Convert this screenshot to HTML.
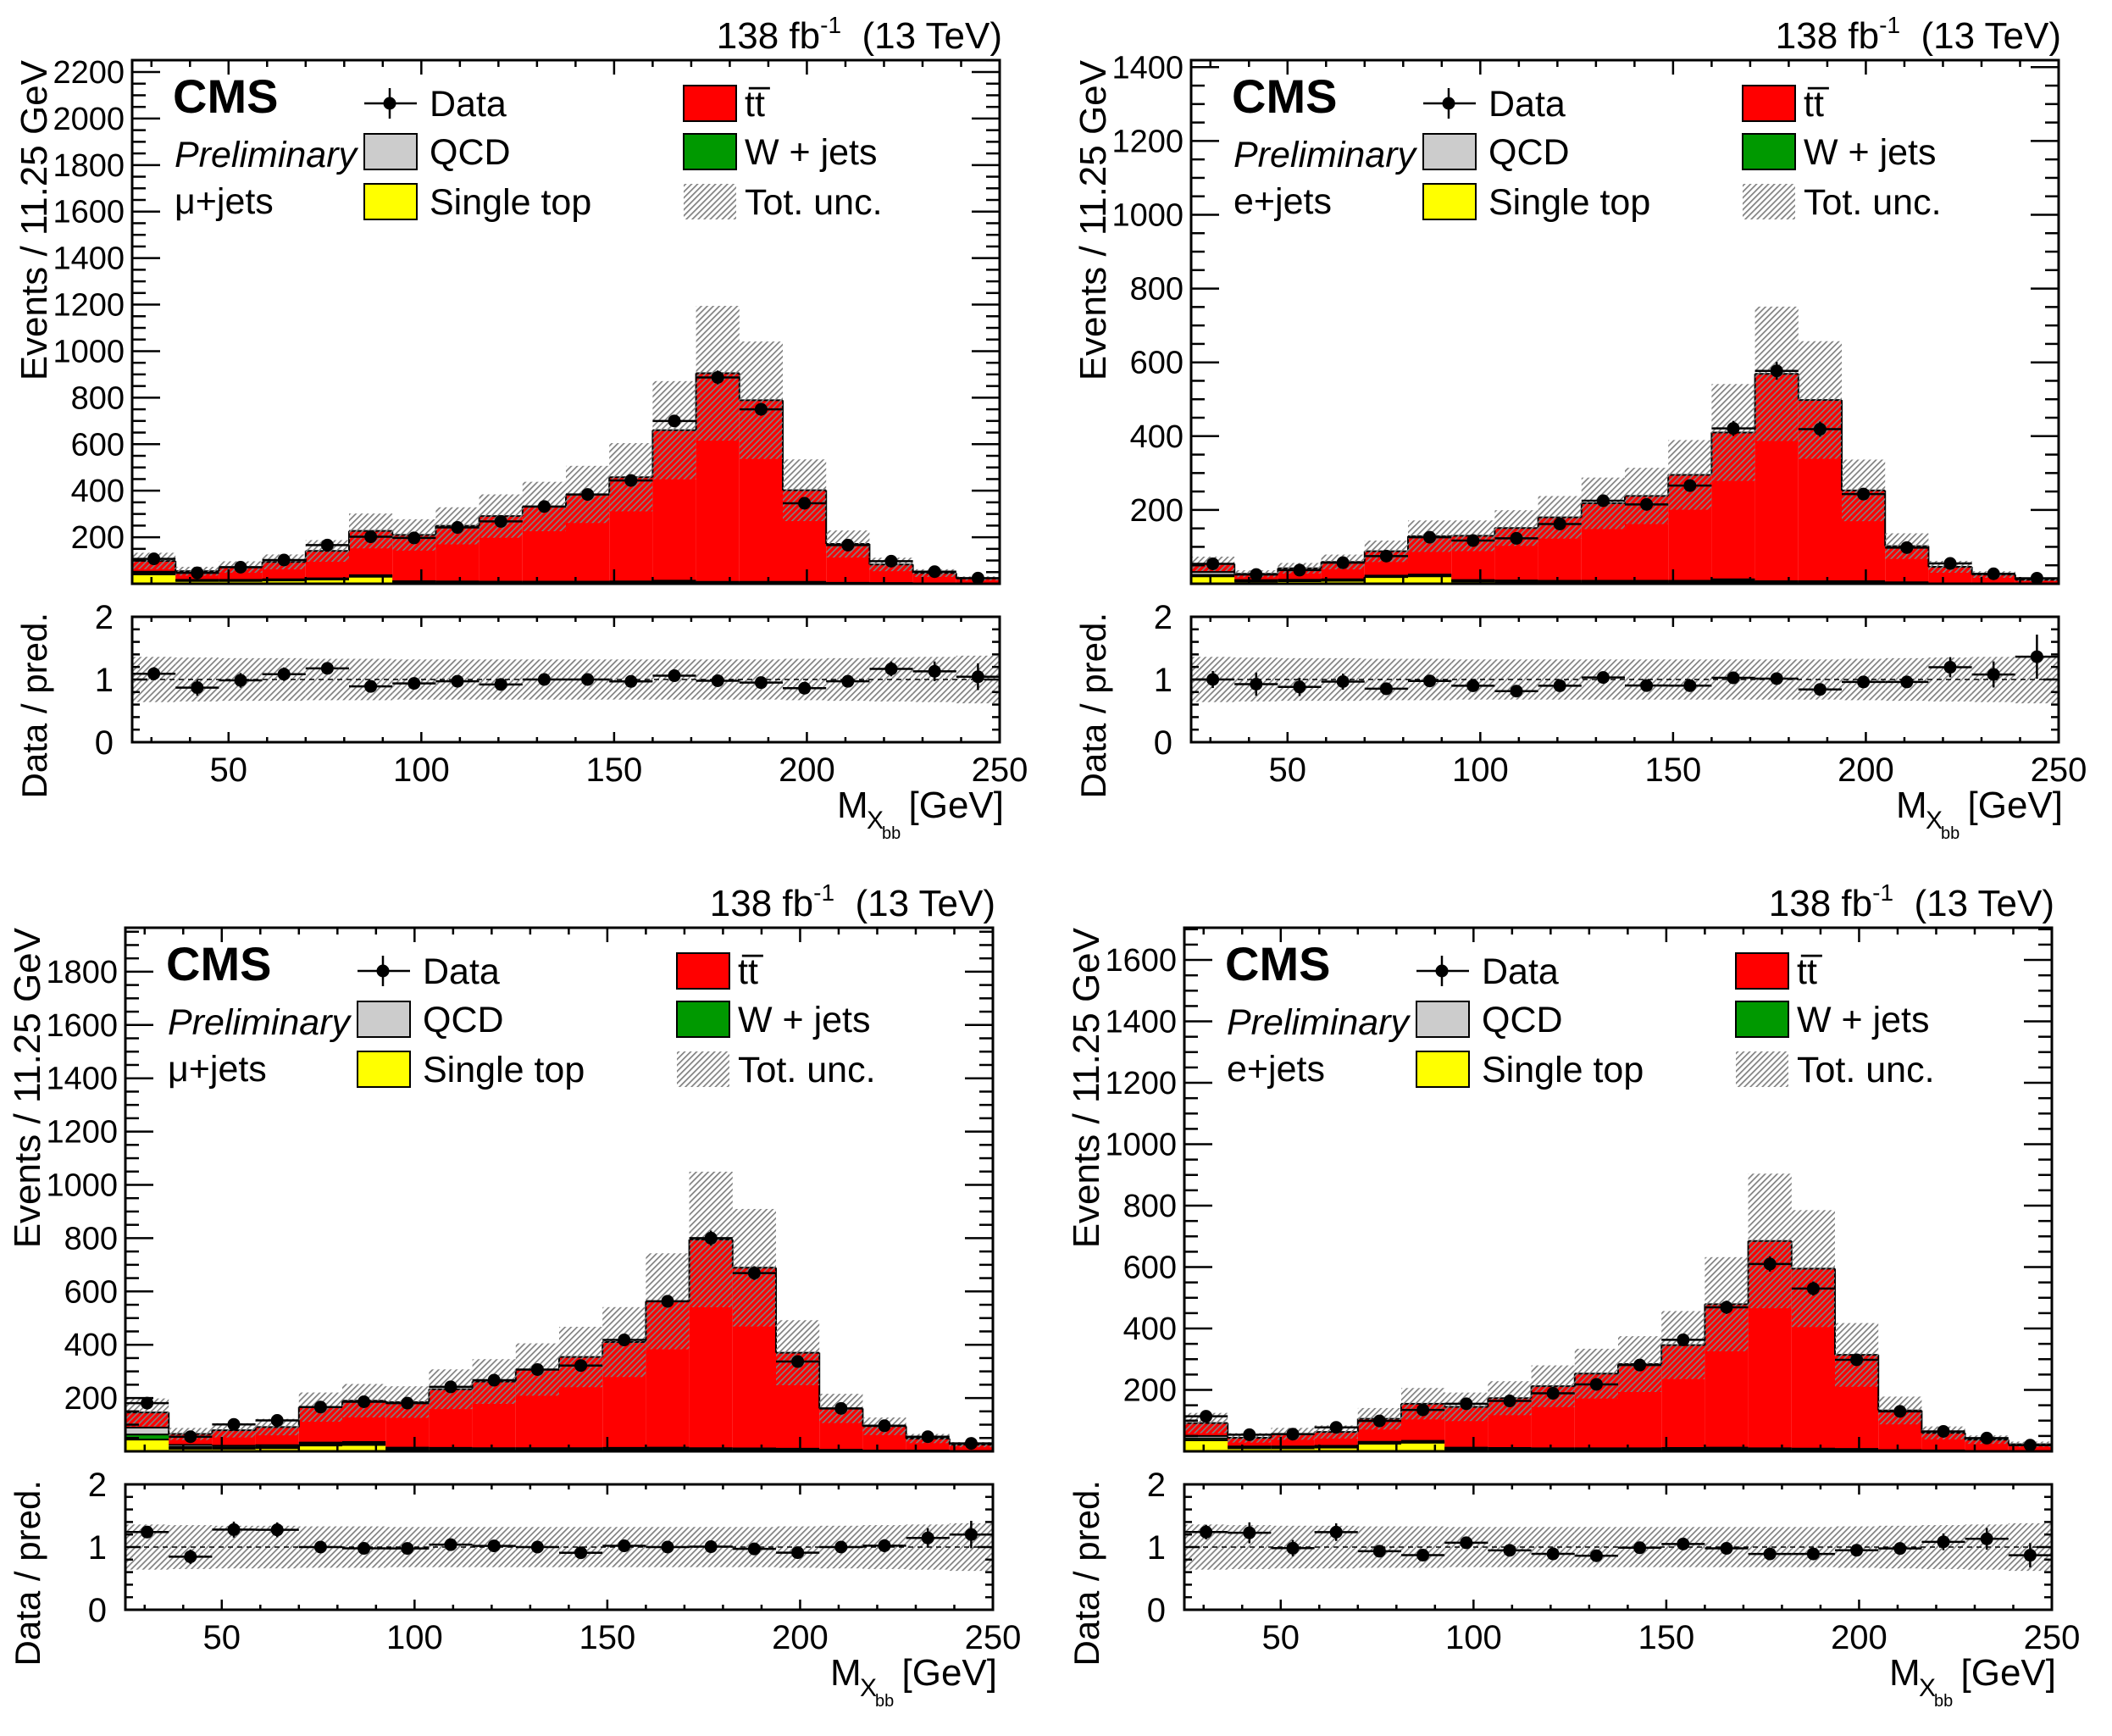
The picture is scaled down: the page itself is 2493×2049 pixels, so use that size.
<!DOCTYPE html>
<html><head><meta charset="utf-8"><style>
html,body{margin:0;padding:0;background:#fff;}
svg text{font-family:"Liberation Sans",Arial,sans-serif;fill:#000;}
</style></head><body>
<svg id="fig" xmlns="http://www.w3.org/2000/svg" width="2493" height="2044" viewBox="0 0 2493 2044">
<defs>
<pattern id="hatch" patternUnits="userSpaceOnUse" width="5" height="5" patternTransform="rotate(45)">
<rect x="0" y="0" width="1.7" height="5" fill="#808080"/>
</pattern>
</defs>
<g id="root"></g>
</svg>
<script>
// ---------- shared binning / uncertainty ----------
const xMin = 25, binW = 11.25, nBins = 20;
const uncFrac = [0.36,0.35,0.34,0.34,0.33,0.33,0.32,0.32,0.32,0.32,0.32,0.32,0.32,0.32,0.32,0.33,0.34,0.35,0.36,0.38];
const xTickLabels = [50,100,150,200,250];

// ---------- panel 1: mu+jets (top-left) ----------
const p1Data  = [107,47,71,102,166,202,197,242,268,332,384,444,700,887,750,346,166,97,52,24];
const p1Pred  = [98,54,72,94,141,227,210,249,291,332,384,458,660,905,789,402,171,83,46,23];
const p1Stop  = [40,12,12,14,18,30,6,5,4,4,4,5,6,3,3,4,2,1,1,1];
const p1Wjets = [6,3,3,3,3,4,3,3,3,3,3,3,4,3,3,2,1,1,0,0];
const p1Qcd   = [6,2,2,2,2,3,2,2,2,2,2,2,3,2,2,2,1,1,0,0];
const p1YTicks = [200,400,600,800,1000,1200,1400,1600,1800,2000,2200];

// ---------- panel 2: e+jets (top-right) ----------
const p2Data  = [54,25,37,57,75,126,117,123,162,225,215,266,421,577,419,243,98,55,27,15];
const p2Pred  = [54,27,42,59,88,129,130,151,180,218,238,295,410,569,498,253,102,46,25,11];
const p2Stop  = [20,6,7,8,18,20,6,5,4,4,4,4,5,3,3,3,2,1,1,1];
const p2Wjets = [4,2,2,2,2,3,2,2,2,2,2,2,4,2,2,2,1,0,0,0];
const p2Qcd   = [8,2,2,2,2,2,2,2,2,2,2,2,3,2,2,2,1,0,0,0];
const p2YTicks = [200,400,600,800,1000,1200,1400];

// ---------- panel 3: mu+jets (bottom-left) ----------
const p3Data  = [181,55,101,116,166,186,181,242,267,307,322,418,563,800,669,337,161,96,55,30];
const p3Pred  = [146,65,79,91,166,190,185,233,262,307,354,410,563,795,689,370,161,94,48,25];
const p3Stop  = [44,10,10,12,22,24,6,5,4,4,4,5,6,4,3,4,2,1,1,1];
const p3Wjets = [19,6,5,5,5,5,4,4,4,4,4,4,4,4,4,3,2,1,1,0];
const p3Qcd   = [26,8,6,6,6,6,4,4,4,4,4,4,4,4,4,3,2,1,1,0];
const p3YTicks = [200,400,600,800,1000,1200,1400,1600,1800];

// ---------- panel 4: e+jets (bottom-right) ----------
const p4Data  = [114,54,56,78,99,135,155,164,189,218,281,363,469,610,530,298,130,65,43,20];
const p4Pred  = [92,44,57,63,106,155,145,173,212,253,284,346,479,685,595,314,133,60,38,23];
const p4Stop  = [36,10,10,12,25,28,6,5,4,4,4,5,6,4,3,4,2,1,1,1];
const p4Wjets = [6,3,3,3,3,3,3,3,3,3,3,3,3,3,3,2,1,1,0,0];
const p4Qcd   = [8,3,3,3,3,3,3,3,3,3,3,3,3,3,3,2,1,1,0,0];
const p4YTicks = [200,400,600,800,1000,1200,1400,1600];

const NS = "http://www.w3.org/2000/svg";
const root = document.getElementById('root');
function mk(tag, attrs, parent){
  const e = document.createElementNS(NS, tag);
  for (const k in attrs) e.setAttribute(k, attrs[k]);
  (parent||root).appendChild(e);
  return e;
}

function drawPanel(cfg){
  const g = mk('g', {transform:'translate('+cfg.dx+','+cfg.dy+')'});
  
  
  const X0=156, X1=1180, YT=71, YB=689, RT=728, RB=876;
  const xs = v => X0 + (v - xMin) * (X1 - X0) / (nBins*binW);
  const ys = v => YB - Math.min(v, cfg.ymax) * (YB - YT) / cfg.ymax;
  const rs = v => RB - Math.max(0, Math.min(v, 2)) * (RB - RT) / 2;

  const layers = [
    {name:'single-top', col:'#ffff00'},
    {name:'w-jets', col:'#009900'},
    {name:'qcd', col:'#cccccc'},
    {name:'ttbar', col:'#ff0000'}
  ];
  const hist = mk('g', {}, g);
  
  
  for (let i=0;i<nBins;i++){
    const xa = xs(xMin+i*binW), xb = xs(xMin+(i+1)*binW);
    const comps = [cfg.stop[i], cfg.wj[i], cfg.qcd[i], Math.max(0, cfg.pred[i]-cfg.stop[i]-cfg.wj[i]-cfg.qcd[i])];
    for (let l=3;l>=0;l--){
      let top = 0; for (let k=0;k<=l;k++) top += comps[k];
      const r = mk('rect', {x:xa, y:ys(top), width:xb-xa, height:YB-ys(top), fill:layers[l].col}, hist);
      
      
      mk('line', {x1:xa, x2:xb, y1:ys(top), y2:ys(top), stroke:'#000', 'stroke-width':2}, hist);
    }
  }
  for (let i=0;i<=nBins;i++){
    const x = xs(xMin+i*binW);
    const a = i>0?cfg.pred[i-1]:0, b = i<nBins?cfg.pred[i]:0;
    mk('line', {x1:x, x2:x, y1:ys(a), y2:ys(b), stroke:'#000', 'stroke-width':2}, hist);
  }
  for (let i=0;i<nBins;i++){
    const xa = xs(xMin+i*binW), xb = xs(xMin+(i+1)*binW);
    const hi = cfg.pred[i]*(1+uncFrac[i]), lo = cfg.pred[i]*(1-uncFrac[i]);
    const r = mk('rect', {x:xa, y:ys(hi), width:xb-xa, height:ys(lo)-ys(hi), fill:'url(#hatch)'}, g);
    
    
  }
  for (let i=0;i<nBins;i++){
    const xa = xs(xMin+i*binW), xb = xs(xMin+(i+1)*binW), xc=(xa+xb)/2;
    const d = cfg.data[i], e = Math.sqrt(d);
    mk('line', {x1:xa, x2:xb, y1:ys(d), y2:ys(d), stroke:'#000', 'stroke-width':2.5}, g);
    mk('line', {x1:xc, x2:xc, y1:ys(d+e), y2:ys(d-e), stroke:'#000', 'stroke-width':2.5}, g);
    const c = mk('circle', {cx:xc, cy:ys(d), r:7.5, fill:'#000'}, g);
    
    
  }
  const fr = mk('rect', {x:X0, y:YT, width:X1-X0, height:YB-YT, fill:'none', stroke:'#000', 'stroke-width':3}, g);
  
  
  for (let v=50; v<=cfg.ymax; v+=50){
    const major = (v%200===0), L = major?33:16, y = ys(v);
    mk('line', {x1:X0, x2:X0+L, y1:y, y2:y, stroke:'#000', 'stroke-width':2.5}, g);
    mk('line', {x1:X1, x2:X1-L, y1:y, y2:y, stroke:'#000', 'stroke-width':2.5}, g);
  }
  cfg.yticks.forEach(v=>{
    const t = mk('text', {x:147, y:ys(v)+13, 'font-size':38, 'text-anchor':'end'}, g);
    t.textContent = v;
    
    
  });
  for (let v=30; v<=250; v+=10){
    const major = (v%50===0), x = xs(v);
    mk('line', {x1:x, x2:x, y1:YB, y2:YB-(major?17:8), stroke:'#000', 'stroke-width':2.5}, g);
    mk('line', {x1:x, x2:x, y1:YT, y2:YT+(major?17:8), stroke:'#000', 'stroke-width':2.5}, g);
    mk('line', {x1:x, x2:x, y1:RB, y2:RB-(major?12:6), stroke:'#000', 'stroke-width':2.5}, g);
    mk('line', {x1:x, x2:x, y1:RT, y2:RT+(major?12:6), stroke:'#000', 'stroke-width':2.5}, g);
  }
  for (let i=0;i<nBins;i++){
    const xa = xs(xMin+i*binW), xb = xs(xMin+(i+1)*binW);
    const r = mk('rect', {x:xa, y:rs(1+uncFrac[i]), width:xb-xa, height:rs(1-uncFrac[i])-rs(1+uncFrac[i]), fill:'url(#hatch)'}, g);
    
    
  }
  mk('line', {x1:X0, x2:X1, y1:rs(1), y2:rs(1), stroke:'#000', 'stroke-width':1.5, 'stroke-dasharray':'6,5'}, g);
  for (let i=0;i<nBins;i++){
    const xa = xs(xMin+i*binW), xb = xs(xMin+(i+1)*binW), xc=(xa+xb)/2;
    const r = cfg.data[i]/cfg.pred[i], e = Math.sqrt(cfg.data[i])/cfg.pred[i];
    mk('line', {x1:xa, x2:xb, y1:rs(r), y2:rs(r), stroke:'#000', 'stroke-width':2.5}, g);
    mk('line', {x1:xc, x2:xc, y1:rs(r+e), y2:rs(r-e), stroke:'#000', 'stroke-width':2.5}, g);
    const c = mk('circle', {cx:xc, cy:rs(r), r:7.5, fill:'#000'}, g);
    
    
  }
  const rf = mk('rect', {x:X0, y:RT, width:X1-X0, height:RB-RT, fill:'none', stroke:'#000', 'stroke-width':3}, g);
  
  
  for (let k=1;k<10;k++){
    const v=k*0.2, L=(k===5)?18:9, y=rs(v);
    mk('line', {x1:X0, x2:X0+L, y1:y, y2:y, stroke:'#000', 'stroke-width':2.5}, g);
    mk('line', {x1:X1, x2:X1-L, y1:y, y2:y, stroke:'#000', 'stroke-width':2.5}, g);
  }
  [0,1,2].forEach(v=>{
    const t = mk('text', {x:134, y:rs(v)+14, 'font-size':40, 'text-anchor':'end'}, g);
    t.textContent = v;
    
    
  });
  xTickLabels.forEach(v=>{
    const t = mk('text', {x:xs(v), y:922, 'font-size':40, 'text-anchor':'middle'}, g);
    t.textContent = v;
    
    
  });
  const yt = mk('text', {transform:'translate(55,71) rotate(-90)', 'font-size':44, 'text-anchor':'end'}, g);
  yt.textContent = 'Events / 11.25 GeV';
  
  
  const rt = mk('text', {transform:'translate(55,723) rotate(-90)', 'font-size':42, 'text-anchor':'end'}, g);
  rt.textContent = 'Data / pred.';
  
  
  const xg = mk('g', {}, g);
  
  
  mk('text', {x:988, y:965, 'font-size':44}, xg).textContent = 'M';
  mk('text', {x:1023, y:978, 'font-size':30}, xg).textContent = 'X';
  mk('text', {x:1041, y:990, 'font-size':20}, xg).textContent = 'bb';
  mk('text', {x:1185, y:965, 'font-size':44, 'text-anchor':'end'}, xg).textContent = '[GeV]';
  const hd = mk('text', {x:1183, y:57, 'font-size':44, 'text-anchor':'end'}, g);
  
  
  hd.innerHTML = '138 fb<tspan font-size="28" dy="-18">-1</tspan><tspan dy="18" xml:space="preserve">  (13 TeV)</tspan>';
  const cms = mk('text', {x:204, y:133, 'font-size':56, 'font-weight':'bold'}, g);
  cms.textContent = 'CMS';
  
  
  const pr = mk('text', {x:206, y:197, 'font-size':43, 'font-style':'italic'}, g);
  pr.textContent = 'Preliminary';
  
  
  const ch = mk('text', {x:206, y:252, 'font-size':43}, g);
  ch.textContent = cfg.channel;
  
  
  const lg = mk('g', {}, g);
  
  
  mk('line', {x1:430, x2:492, y1:122, y2:122, stroke:'#000', 'stroke-width':2.5}, lg);
  mk('line', {x1:460, x2:460, y1:104, y2:140, stroke:'#000', 'stroke-width':2.5}, lg);
  mk('circle', {cx:460, cy:122, r:7.5, fill:'#000'}, lg);
  const entries = [
    {x:430, y:179, fill:'#cccccc', tx:507, label:'QCD'},
    {x:430, y:238, fill:'#ffff00', tx:507, label:'Single top'},
    {x:807, y:122, fill:'#ff0000', tx:879, label:'t\u0074\u0305'},
    {x:807, y:179, fill:'#009900', tx:879, label:'W + jets'},
    {x:807, y:238, fill:'url(#hatch)', tx:879, label:'Tot. unc.'}
  ];
  const t0 = mk('text', {x:507, y:137, 'font-size':43}, lg);
  t0.textContent = 'Data';
  
  
  entries.forEach(en=>{
    mk('rect', {x:en.x, y:en.y-21, width:62, height:42, fill:en.fill, stroke: en.fill==='url(#hatch)'?'none':'#000', 'stroke-width':2}, lg);
    const t = mk('text', {x:en.tx, y:en.y+15, 'font-size':43}, lg);
    t.textContent = en.label;
    
    
  });
}

drawPanel({name:'panel-mu-jets-top', dx:0, dy:0, ymax:2251, yticks:p1YTicks, channel:'\u03bc+jets',
  data:p1Data, pred:p1Pred, stop:p1Stop, wj:p1Wjets, qcd:p1Qcd});
drawPanel({name:'panel-e-jets-top', dx:1250, dy:0, ymax:1419, yticks:p2YTicks, channel:'e+jets',
  data:p2Data, pred:p2Pred, stop:p2Stop, wj:p2Wjets, qcd:p2Qcd});
drawPanel({name:'panel-mu-jets-bottom', dx:-8, dy:1024, ymax:1965, yticks:p3YTicks, channel:'\u03bc+jets',
  data:p3Data, pred:p3Pred, stop:p3Stop, wj:p3Wjets, qcd:p3Qcd});
drawPanel({name:'panel-e-jets-bottom', dx:1242, dy:1024, ymax:1705, yticks:p4YTicks, channel:'e+jets',
  data:p4Data, pred:p4Pred, stop:p4Stop, wj:p4Wjets, qcd:p4Qcd});
</script>
</body></html>
